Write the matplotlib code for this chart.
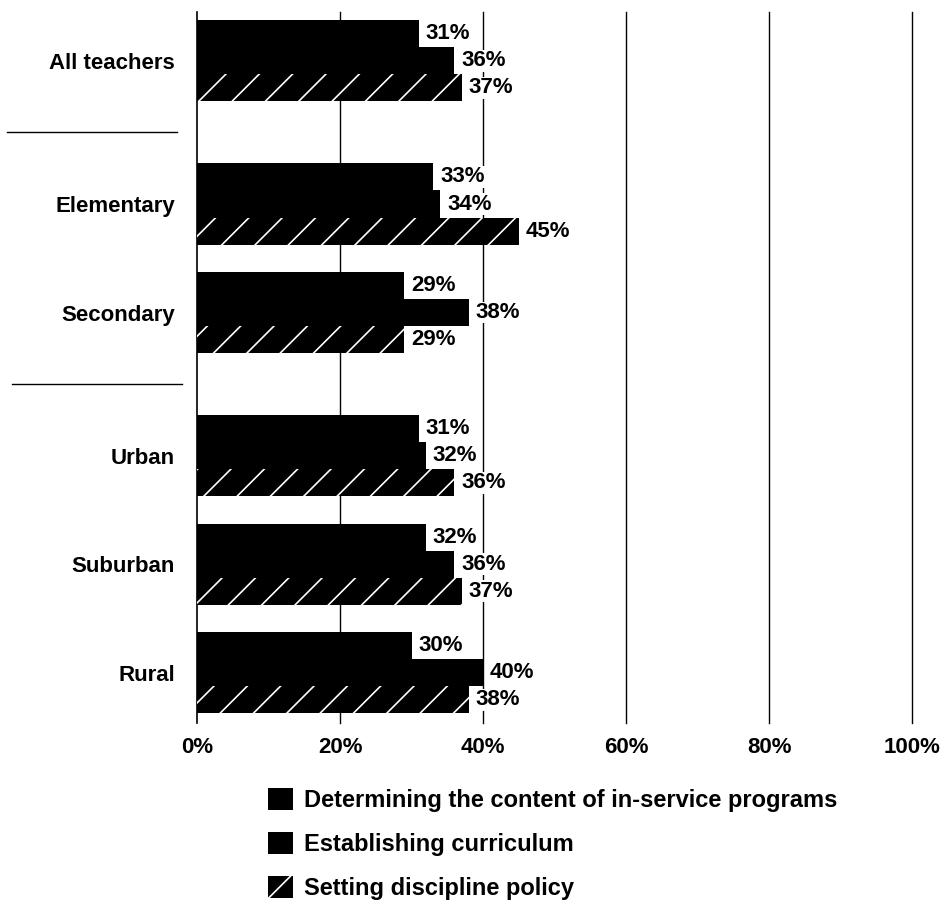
import matplotlib.pyplot as plt
import numpy as np
from matplotlib.patches import Patch

plt.rcParams['font.family'] = ['Liberation Sans', 'DejaVu Sans']
plt.rcParams['hatch.linewidth'] = 1.2

# data
groups = ["All teachers", "Elementary", "Secondary", "Urban", "Suburban", "Rural"]
series = ["Determining the content of in-service programs",
          "Establishing curriculum",
          "Setting discipline policy"]
inservice = [31, 33, 29, 31, 32, 30]
curriculum = [36, 34, 38, 32, 36, 40]
discipline = [37, 45, 29, 36, 37, 38]
xticks = [0, 20, 40, 60, 80, 100]

# group centres, with extra space between the sections
section = [0, 1, 1, 2, 2, 2]
ypos = np.arange(len(groups)) + 0.32 * np.array(section)
h = 0.25
hatches = [None, None, "/"]

fig = plt.figure(figsize=(9.52, 9.19), dpi=100)
ax = fig.add_axes([0.207, 0.213, 0.751, 0.774])

for i, vals in enumerate([inservice, curriculum, discipline]):
    y = ypos + (i - 1) * h
    ax.barh(y, vals, height=h, color="black",
            edgecolor="white" if hatches[i] else "black",
            hatch=hatches[i], linewidth=0, zorder=3)
    for yy, v in zip(y, vals):
        ax.annotate(f"{v}%", (v, yy), xytext=(5, 0), textcoords="offset points",
                    va="center", ha="left", fontsize=16, fontweight="bold",
                    bbox=dict(facecolor="white", edgecolor="none", pad=0.3),
                    zorder=4)

ax.set_xlim(0, 100)
ax.set_ylim(ypos[-1] + 0.375 + 0.09, -0.375 - 0.075)
ax.set_xticks(xticks)
ax.set_xticklabels([f"{t}%" for t in xticks], fontsize=16, fontweight="bold")
ax.set_yticks(ypos)
ax.set_yticklabels(groups, fontsize=16, fontweight="bold")
ax.tick_params(axis="both", length=0)
ax.tick_params(axis="x", pad=10)
ax.tick_params(axis="y", pad=16)

for t in xticks[1:]:
    ax.axvline(t, color="black", linewidth=1.0, zorder=1, clip_on=False)
for s in ["top", "right", "bottom"]:
    ax.spines[s].set_visible(False)
ax.spines["left"].set_linewidth(1.2)

# section separators to the left of the axis
tr = ax.get_yaxis_transform()
ax.plot([-0.266, -0.028], [0.66, 0.66], transform=tr, color="black",
        linewidth=1.0, clip_on=False)
ax.plot([-0.259, -0.021], [2.98, 2.98], transform=tr, color="black",
        linewidth=1.0, clip_on=False)

handles = [Patch(facecolor="black", edgecolor="white" if hh else "black",
                 hatch=hh, linewidth=0) for hh in hatches]
fig.legend(handles, series, loc="upper left", bbox_to_anchor=(0.272, 0.153),
           frameon=False, handlelength=1.05, handleheight=1.05,
           handletextpad=0.45, labelspacing=0.85, borderaxespad=0,
           prop=dict(size=17, weight="bold"))

fig.savefig("out.png", dpi=100)
